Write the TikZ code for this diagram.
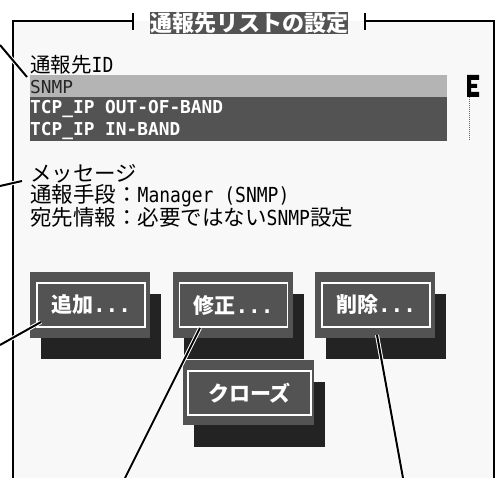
\documentclass[tikz,border=0pt]{standalone}
\usepackage{fontspec}
\setmainfont{Noto Sans CJK JP}
\newfontfamily\lat{DejaVu Sans Mono}
\definecolor{dk}{HTML}{535353}
\definecolor{sel}{HTML}{B4B4B4}
\definecolor{shd}{HTML}{232323}
\definecolor{bgc}{HTML}{F8F8F8}
\newcommand{\latm}[1]{\scalebox{1}[1.15]{\lat\fontsize{18}{22}\selectfont #1}}
\tikzset{
  cjk/.style={font=\fontsize{21.5}{22}\selectfont, inner sep=0pt},
  rowbox/.style={anchor=north west, minimum width=417pt, minimum height=22pt, inner sep=0pt},
  rowtext/.style={anchor=west, inner sep=0pt, font=\lat\bfseries\fontsize{17.8}{22}\selectfont},
  btnshadow/.style={fill=shd, minimum width=120pt, minimum height=65pt, inner sep=0pt},
  btnbody/.style={fill=dk, minimum width=120pt, minimum height=65pt, inner sep=0pt},
  btnin/.style={draw=white, line width=1.6pt, fill=dk, minimum width=108pt, minimum height=44pt, inner sep=0pt, text=white, font=\bfseries\fontsize{21}{22}\selectfont},
  leader/.style={line width=2pt, black, preaction={draw=white, line width=4pt}},
  frameline/.style={line width=1.2pt, black}
}
\begin{document}
\begin{tikzpicture}[x=1pt,y=-1pt]
\useasboundingbox (0,0) rectangle (495,478);
\fill[white] (0,0) rectangle (495,478);
\fill[bgc] (13,21) rectangle (494,478);
% frame
\draw[frameline] (13,478) -- (13,21) -- (133,21);
\draw[frameline] (133,13) -- (133,30);
\draw[frameline] (365,13) -- (365,30);
\draw[frameline] (365,21) -- (494,21) -- (494,478);
% title
\node[fill=dk, text=white, minimum width=198pt, minimum height=20pt, inner sep=0pt,
      font=\bfseries\fontsize{22}{22}\selectfont] (title) at (249,23) {通報先リストの設定};
% ID label and list
\node[cjk, anchor=west, font=\fontsize{20.5}{22}\selectfont] (idlbl) at (30,65) {通報先\latm{ID}};
\node[rowbox, fill=sel] (r1) at (30,75) {};
\node[rowbox, fill=dk] (r2) at (30,97) {};
\node[rowbox, fill=dk] (r3) at (30,119) {};
\node[rowtext, text=black!85, font=\lat\fontsize{17.8}{22}\selectfont] (t1) at (30,87) {SNMP};
\node[rowtext, text=white] (t2) at (30,108.5) {TCP\_IP OUT-OF-BAND};
\node[rowtext, text=white] (t3) at (30,130.5) {TCP\_IP IN-BAND};
% scrollbar
\fill[black] (467,75) -- (479,75) -- (479,80) -- (471,80) -- (471,84) -- (477,84) -- (477,88) -- (471,88) -- (471,92) -- (479,92) -- (479,97) -- (467,97) -- cycle;
\draw[black!60, line width=1pt, dash pattern=on 1pt off 1pt] (469,97) -- (469,140);
% message
\node[cjk, anchor=west] (m1) at (30,174) {メッセージ};
\node[cjk, anchor=west] (m2) at (30,195.5) {通報手段：\latm{Manager (SNMP)}};
\node[cjk, anchor=west] (m3) at (30,217) {宛先情報：必要ではない\latm{SNMP}設定};
% buttons
\node[btnshadow] (s1) at (101,326) {};
\node[btnbody] (b1) at (90,305) {};
\node[btnin] (i1) at (91,305) {追加{\lat\bfseries ...}};
\node[btnshadow] (s2) at (243.5,326) {};
\node[btnbody] (b2) at (232.5,305) {};
\node[btnin] (i2) at (233.5,305) {修正{\lat\bfseries ...}};
\node[btnshadow] (s3) at (386,326) {};
\node[btnbody] (b3) at (375,305) {};
\node[btnin] (i3) at (376,305) {削除{\lat\bfseries ...}};
\node[btnshadow, minimum width=131pt] (s4) at (259.5,414.5) {};
\node[btnbody, minimum width=131pt] (b4) at (248.5,392.5) {};
\node[btnin, minimum width=123pt] (i4) at (249.5,393) {クローズ};
% leader lines
\coordinate (e1) at (0,45);
\coordinate (p1) at (27,77);
\coordinate (e2) at (0,186);
\coordinate (p2) at (22,181);
\coordinate (e3) at (0,345);
\coordinate (p3) at (41,322);
\coordinate (e4) at (125,478);
\coordinate (p4) at (200,328);
\coordinate (e5) at (403,478);
\coordinate (p5) at (377,335);
\draw[leader] (e1) -- (p1);
\draw[leader] (e2) -- (p2);
\draw[leader] (e3) -- (p3);
\draw[leader] (e4) -- (p4);
\draw[leader] (e5) -- (p5);
\end{tikzpicture}
\end{document}
